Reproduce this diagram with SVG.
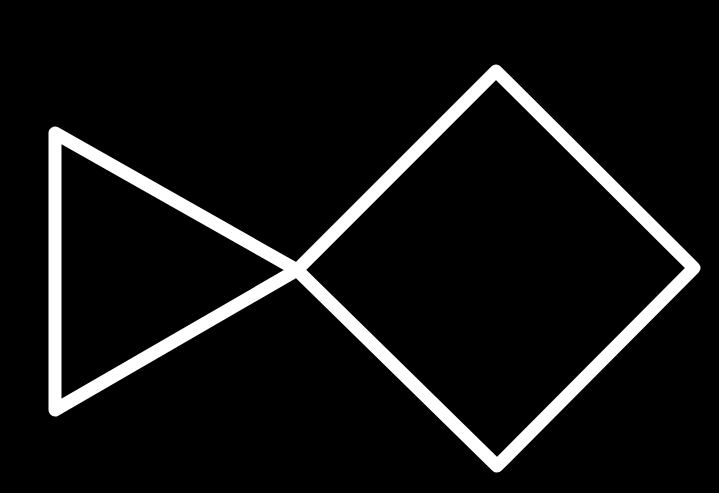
<svg xmlns="http://www.w3.org/2000/svg" width="719" height="493" viewBox="0 0 719 493">
<style>
.s{fill:none;stroke:#fff;stroke-width:13;stroke-linejoin:round;stroke-linecap:round}
</style>
<rect width="719" height="493" fill="#000"/>
<g id="triangle"><polygon class="s" points="55,133 55,410 297,270"/></g>
<g id="diamond"><polygon class="s" points="297,270 496,71 694,268 497,466"/></g>
</svg>
